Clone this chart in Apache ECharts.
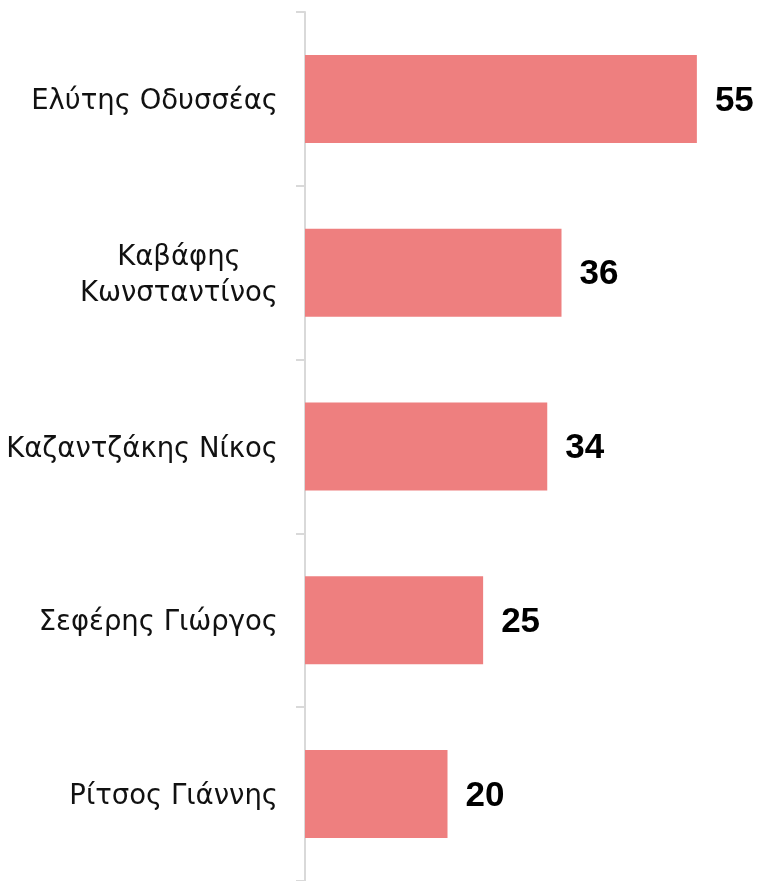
<!DOCTYPE html>
<html>
<head>
<meta charset="utf-8">
<script src="https://cdn.jsdelivr.net/npm/echarts@6/dist/echarts.min.js"></script>
<style>
html,body{margin:0;padding:0;background:#fff;}
#chart{width:763px;height:881px;}
</style>
</head>
<body>
<div id="chart"></div>
<script>
var categories = ['Ελύτης Οδυσσέας', 'Καβάφης\nΚωνσταντίνος', 'Καζαντζάκης Νίκος', 'Σεφέρης Γιώργος', 'Ρίτσος Γιάννης'];
var values = [55, 36, 34, 25, 20];

var chart = echarts.init(document.getElementById('chart'));
chart.setOption({
  animation: false,
  grid: { left: 305, top: 12, width: 427.5, height: 872.5 },
  xAxis: {
    type: 'value', min: 0, max: 60,
    show: false
  },
  yAxis: {
    type: 'category',
    inverse: true,
    data: categories,
    axisLine: { show: true, lineStyle: { color: '#d9d9d9', width: 2 } },
    axisTick: { show: true, length: 9, lineStyle: { color: '#d9d9d9', width: 2 } },
    axisLabel: {
      margin: 27,
      padding: [6, 0, 0, 0],
      formatter: function (v) {
        return v.split('\n').map(function (l) { return '{c|' + l + '}'; }).join('\n');
      },
      rich: {
        c: { fontFamily: 'DejaVu Sans', fontSize: 27.5, color: '#111', align: 'center', lineHeight: 36 }
      }
    }
  },
  series: [{
    type: 'bar',
    data: values,
    barWidth: 88,
    itemStyle: { color: '#EE7F7F' },
    label: {
      show: true,
      position: 'right',
      distance: 18,
      offset: [0, 2],
      fontFamily: 'Liberation Sans',
      fontWeight: 'bold',
      fontSize: 35,
      color: '#000'
    }
  }]
});
</script>
</body>
</html>
